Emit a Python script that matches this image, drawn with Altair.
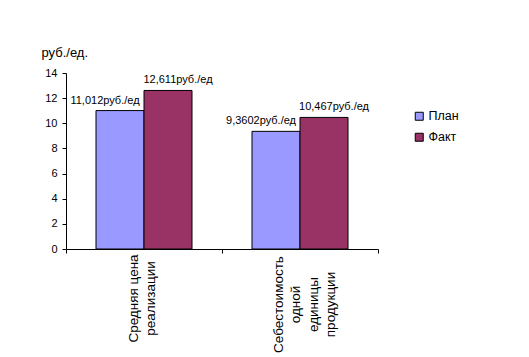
import altair as alt
import pandas as pd

categories = ["Средняя цена\nреализации", "Себестоимость\nодной\nединицы\nпродукции"]
series = ["План", "Факт"]
plan_values = [11.012, 9.3602]
fact_values = [12.611, 10.467]
unit = "руб./ед"

rows = []
for i, c in enumerate(categories):
    for s, vals in zip(series, [plan_values, fact_values]):
        v = vals[i]
        rows.append({"cat": c, "series": s, "value": v,
                     "label": str(v).replace(".", ",") + unit})
df = pd.DataFrame(rows)

font = "Liberation Sans"
is_first = "indexof(datum.label, 'Средняя') >= 0"

x_enc = alt.X("cat:N", sort=categories,
              scale=alt.Scale(paddingInner=0, paddingOuter=0),
              axis=alt.Axis(title=None, labelAngle=270, labelAlign="center",
                            labelBaseline="middle",
                            labelPadding={"condition": {"test": is_first, "value": 45}, "value": 51},
                            labelOffset={"condition": {"test": is_first, "value": -11}, "value": -22},
                            labelExpr="split(datum.label, '\\n')",
                            labelLineHeight=17.5, labelFontSize=13.5,
                            labelColor="black", tickBand="extent",
                            tickSize=4, tickColor="black",
                            domainColor="black", grid=False))
xo_enc = alt.XOffset("series:N", sort=series,
                     scale=alt.Scale(paddingInner=0, paddingOuter=0.625))
y_enc = alt.Y("value:Q",
              scale=alt.Scale(domain=[0, 14], nice=False),
              axis=alt.Axis(values=list(range(0, 15, 2)), title="руб./ед.",
                            titleAngle=0, titleX=-25, titleY=-17,
                            titleAlign="left", titleBaseline="alphabetic",
                            titleFontSize=13, titleFontWeight="normal",
                            titleColor="black",
                            labelFontSize=11, labelColor="black",
                            labelPadding=5, tickSize=4, tickColor="black",
                            domainColor="black", grid=False))

bars = alt.Chart(df).mark_bar(stroke="black", strokeWidth=1).encode(
    x=x_enc, xOffset=xo_enc, y=y_enc,
    color=alt.Color("series:N", sort=series,
                    scale=alt.Scale(domain=series, range=["#9999FF", "#993366"]),
                    legend=alt.Legend(title=None, orient="none",
                                      legendX=347, legendY=37,
                                      symbolType="square", symbolSize=64,
                                      symbolStrokeColor="black",
                                      symbolStrokeWidth=1,
                                      labelFontSize=12.5, labelColor="black",
                                      labelOffset=3, rowPadding=8, padding=0)),
)

def text_layer(s, dx):
    return alt.Chart(df).transform_filter(
        alt.datum.series == s
    ).mark_text(baseline="bottom", dy=-5, dx=dx, fontSize=11,
                color="black", font=font).encode(
        x=x_enc, xOffset=xo_enc, y=y_enc, text="label:N")

chart = alt.layer(bars, text_layer("План", -15), text_layer("Факт", 10)).properties(
    width=312, height=176,
    autosize=alt.AutoSizeParams(type="none"),
    padding={"left": 66, "top": 73, "right": 151, "bottom": 108},
    background="white",
).configure(font=font).configure_view(stroke=None)

chart.save("out.html", embed_options={"renderer": "svg", "actions": False})
